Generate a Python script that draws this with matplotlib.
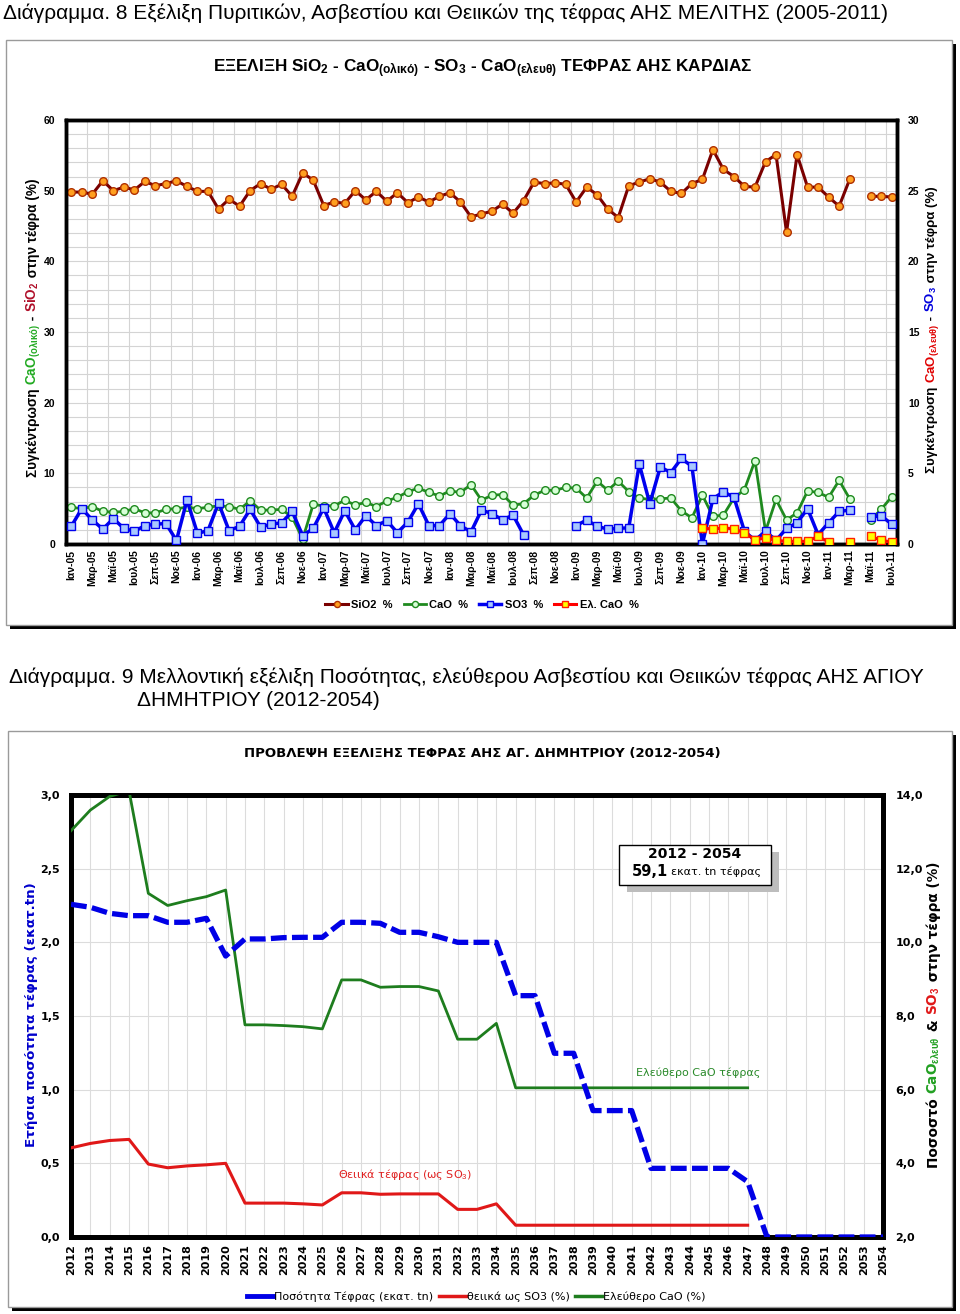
import numpy as np
import matplotlib
matplotlib.use('Agg')
import matplotlib.pyplot as plt
from matplotlib import font_manager
from matplotlib.patches import Rectangle
from matplotlib.lines import Line2D
import matplotlib.ticker as mticker

# ---------------- DATA ----------------
month_abbr = ['Ιαν', 'Φεβ', 'Μαρ', 'Απρ', 'Μαϊ', 'Ιουν', 'Ιουλ', 'Αυγ', 'Σεπ', 'Οκτ', 'Νοε', 'Δεκ']
year_abbr = ['05', '06', '07', '08', '09', '10', '11']
nan = np.nan

sio2 = [49.8, 49.8, 49.5, 51.4, 50.0, 50.5, 50.1, 51.3, 50.7, 51.0, 51.4, 50.6,
        49.9, 49.9, 47.4, 48.8, 47.8, 50.0, 51.0, 50.2, 50.9, 49.2, 52.5, 51.5,
        47.9, 48.4, 48.2, 50.0, 48.7, 49.9, 48.5, 49.7, 48.3, 49.1, 48.4, 49.2,
        49.7, 48.4, 46.3, 46.7, 47.1, 48.1, 46.8, 48.6, 51.2, 51.0, 51.1, 50.9,
        48.4, 50.5, 49.4, 47.4, 46.2, 50.7, 51.2, 51.7, 51.2, 49.9, 49.6, 51.0,
        51.6, 55.8, 53.0, 52.0, 50.6, 50.5, 54.1, 55.1, 44.1, 55.1, 50.5, 50.5,
        49.1, 47.8, 51.6, nan, 49.2, 49.2, 49.1]
cao = [5.2, 5.0, 5.3, 4.6, 4.5, 4.6, 5.0, 4.4, 4.4, 4.9, 5.0, 5.2,
       5.0, 5.2, 5.4, 5.3, 4.9, 6.1, 4.8, 4.8, 4.9, 3.8, 0.7, 5.6,
       5.4, 5.4, 6.2, 5.5, 5.9, 5.3, 6.1, 6.6, 7.4, 7.9, 7.3, 6.8,
       7.5, 7.3, 8.4, 6.2, 6.9, 7.0, 5.5, 5.7, 6.9, 7.6, 7.6, 8.0,
       7.9, 6.5, 8.9, 7.6, 8.9, 7.4, 6.5, 6.3, 6.4, 6.5, 4.7, 3.7,
       6.9, 3.9, 4.1, 6.5, 7.7, 11.8, 1.8, 6.3, 3.4, 4.4, 7.5, 7.3,
       6.6, 9.0, 6.4, nan, 3.4, 4.9, 6.7]
so3 = [1.25, 2.5, 1.7, 1.05, 1.8, 1.1, 0.9, 1.3, 1.4, 1.45, 0.25, 3.1,
       0.75, 0.95, 2.9, 0.95, 1.25, 2.45, 1.2, 1.4, 1.5, 2.3, 0.6, 1.1,
       2.55, 0.8, 2.35, 1.0, 2.0, 1.3, 1.65, 0.8, 1.55, 2.85, 1.3, 1.3,
       2.15, 1.3, 0.85, 2.4, 2.15, 1.7, 2.05, 0.65, nan, nan, nan, nan,
       1.3, 1.7, 1.25, 1.05, 1.1, 1.15, 5.65, 2.85, 5.45, 5.05, 6.05, 5.5,
       0.0, 3.2, 3.7, 3.3, 0.9, 0.26, 0.9, 0.26, 1.1, 1.5, 2.5, 0.66,
       1.5, 2.3, 2.4, nan, 1.9, 2.0, 1.4]
free_cao = [nan] * 60 + [1.13, 1.06, 1.13, 1.08, 0.78, 0.31, 0.42, 0.26, 0.19, 0.19, 0.19, 0.54,
                         0.14, nan, 0.14, nan, 0.54, 0.26, 0.14]

years = list(range(2012, 2055))
ash_qty = [2.258, 2.238, 2.197, 2.181, 2.181, 2.136, 2.136, 2.163, 1.907, 2.023,
           2.023, 2.032, 2.034, 2.034, 2.136, 2.136, 2.129, 2.068, 2.068, 2.038,
           2.0, 2.0, 2.0, 1.638, 1.638, 1.247, 1.247, 0.858, 0.858, 0.858,
           0.466, 0.466, 0.466, 0.466, 0.466, 0.375, 0.0, 0.0, 0.0, 0.0,
           0.0, 0.0, 0.0]
free_cao_fc = [13.03, 13.59, 13.96, 14.12, 11.33, 11.0, 11.13, 11.24, 11.42, 7.76,
               7.76, 7.74, 7.71, 7.65, 8.98, 8.98, 8.78, 8.8, 8.8, 8.68,
               7.37, 7.37, 7.8, 6.05, 6.05, 6.05, 6.05, 6.05, 6.05, 6.05,
               6.05, 6.05, 6.05, 6.05, 6.05, 6.05] + [nan] * 7
so3_fc = [4.42, 4.54, 4.62, 4.65, 3.98, 3.88, 3.93, 3.96, 4.0, 2.92,
          2.92, 2.92, 2.9, 2.87, 3.2, 3.2, 3.16, 3.17, 3.17, 3.17,
          2.75, 2.75, 2.9, 2.32, 2.32, 2.32, 2.32, 2.32, 2.32, 2.32,
          2.32, 2.32, 2.32, 2.32, 2.32, 2.32] + [nan] * 7

# ---------------- SETUP ----------------
names = {f.name for f in font_manager.fontManager.ttflist}
NARROW = 'Liberation Sans Narrow' if 'Liberation Sans Narrow' in names else 'Liberation Sans'
plt.rcParams['mathtext.fontset'] = 'custom'
plt.rcParams['mathtext.rm'] = 'Liberation Sans'
plt.rcParams['mathtext.bf'] = 'Liberation Sans:bold'
plt.rcParams['mathtext.it'] = 'Liberation Sans:italic'

W, H = 960, 1314
fig = plt.figure(figsize=(W / 100, H / 100), dpi=100)
fig.patch.set_facecolor('white')


def fx(px):
    return px / W


def fy(py):
    return 1 - py / H


def outer_box(x0, y0, x1, y1):
    sh = Rectangle((fx(x0 + 4), fy(y1 + 4)), (x1 - x0) / W, (y1 - y0) / H,
                   transform=fig.transFigure, facecolor='black', edgecolor='none', zorder=-3)
    mn = Rectangle((fx(x0), fy(y1)), (x1 - x0) / W, (y1 - y0) / H,
                   transform=fig.transFigure, facecolor='white', edgecolor='#9a9a9a', lw=1, zorder=-2)
    fig.patches.extend([sh, mn])


renderer = fig.canvas.get_renderer()


def vtext(xb, yc, pieces, **kw):
    objs = []
    lens = []
    for s, c in pieces:
        t = fig.text(0, 0, s, color=c, rotation=90, rotation_mode='anchor',
                     ha='left', va='baseline', **kw)
        objs.append(t)
        lens.append(t.get_window_extent(renderer).height)
    total = sum(lens)
    y = yc + total / 2
    for t, L in zip(objs, lens):
        t.set_position((fx(xb), fy(y)))
        y -= L


# ---------------- HEADINGS ----------------
fig.text(fx(3), fy(13), 'Διάγραμμα. 8 Εξέλιξη Πυριτικών, Ασβεστίου και Θειικών της τέφρας ΑΗΣ ΜΕΛΙΤΗΣ (2005-2011)',
         fontsize=15, family=NARROW, ha='left', va='center')
fig.text(fx(9), fy(677), 'Διάγραμμα. 9 Μελλοντική εξέλιξη Ποσότητας, ελεύθερου Ασβεστίου και Θειικών τέφρας ΑΗΣ ΑΓΙΟΥ',
         fontsize=15, family=NARROW, ha='left', va='center')
fig.text(fx(137), fy(701), 'ΔΗΜΗΤΡΙΟΥ (2012-2054)',
         fontsize=15, family=NARROW, ha='left', va='center')

# ---------------- TOP CHART ----------------
outer_box(6, 40, 952, 625)
fig.text(fx(483), fy(69),
         r'ΕΞΕΛΙΞΗ SiO$_\mathbf{2}$ - CaO$_\mathbf{(ολικό)}$ - SO$_\mathbf{3}$ - CaO$_\mathbf{(ελευθ)}$ ΤΕΦΡΑΣ ΑΗΣ ΚΑΡΔΙΑΣ',
         fontsize=12.3, weight='bold', family=NARROW, ha='center', va='center')

ax1 = fig.add_axes([fx(66), fy(544), (897 - 66) / W, (544 - 120) / H])
ax1r = ax1.twinx()
m = np.arange(len(sio2))
all_months = [f'{mo}-{yy}' for yy in year_abbr for mo in month_abbr][:len(sio2)]

l_sio2, = ax1.plot(m, sio2, color='#7a0000', lw=2.2, marker='o', ms=5.5, mfc='#ffa020', mec='#b03000', mew=1, zorder=3)
l_cao, = ax1.plot(m, cao, color='#1f8a1f', lw=2.0, marker='o', ms=5.5, mfc='#d8ffd8', mec='#1f8a1f', mew=1, zorder=3)
l_so3, = ax1r.plot(m, so3, color='#0000ee', lw=2.5, marker='s', ms=5.5, mfc='#a8c8ff', mec='#0000ee', mew=1, zorder=3)
l_fc, = ax1r.plot(m, free_cao, color='#ff0000', lw=2.2, marker='s', ms=5.5, mfc='#ffff00', mec='#ff2000', mew=1, zorder=3)

ax1.set_xlim(-0.5, len(sio2) - 0.5)
ax1.set_ylim(0, 60)
ax1r.set_ylim(0, 30)
ax1.set_yticks(np.arange(0, 61, 10))
ax1.set_yticks(np.arange(0, 61, 2), minor=True)
ax1r.set_yticks(np.arange(0, 31, 5))
ax1.set_xticks(m[::2])
ax1.set_xticklabels(all_months[::2], rotation=90)
ax1.set_xticks(np.arange(1.5, len(sio2) - 1, 2), minor=True)
ax1.grid(True, which='both', axis='y', color='#d4d4d4', lw=0.8)
ax1.grid(True, which='minor', axis='x', color='#d4d4d4', lw=0.8)
ax1.set_axisbelow(True)
for a in (ax1, ax1r):
    for sp in a.spines.values():
        sp.set_linewidth(2.5)
        sp.set_color('black')
    a.tick_params(which='both', length=0)
    for lab in a.get_xticklabels() + a.get_yticklabels():
        lab.set_fontfamily(NARROW)
        lab.set_fontweight('bold')
        lab.set_fontsize(7.5)
ax1.tick_params(axis='y', pad=8)
ax1r.tick_params(axis='y', pad=8)
ax1.tick_params(axis='x', pad=4)

fig.legend([l_sio2, l_cao, l_so3, l_fc], ['SiO2  %', 'CaO  %', 'SO3  %', 'Ελ. CaO  %'],
           loc='center', bbox_to_anchor=(fx(482), fy(605)), ncol=4, frameon=False,
           prop=dict(family=NARROW, weight='bold', size=8), handlelength=2.0,
           columnspacing=1.0, handletextpad=0.3, markerscale=0.8)

vtext(37, 328, [('Συγκέντρωση ', 'black'), (r'CaO$_\mathbf{(ολικό)}$', '#22aa22'), (' - ', 'black'),
                (r'SiO$_\mathbf{2}$', '#b0102a'), (' στην τέφρα (%)', 'black')],
      fontsize=9.8, weight='bold', family='Liberation Sans')
vtext(935, 330, [('Συγκέντρωση ', 'black'), (r'CaO$_\mathbf{(ελευθ)}$', '#e00000'), (' - ', 'black'),
                 (r'SO$_\mathbf{3}$', '#0000dd'), (' στην τέφρα (%)', 'black')],
      fontsize=9.5, weight='bold', family='Liberation Sans')

# ---------------- BOTTOM CHART ----------------
outer_box(8, 731, 952, 1307)
fig.text(fx(482), fy(753), 'ΠΡΟΒΛΕΨΗ ΕΞΕΛΙΞΗΣ ΤΕΦΡΑΣ ΑΗΣ ΑΓ. ΔΗΜΗΤΡΙΟΥ (2012-2054)',
         fontsize=9.5, weight='bold', ha='center', va='center')

ax2 = fig.add_axes([fx(71), fy(1237), (883 - 71) / W, (1237 - 795) / H])
ax2r = ax2.twinx()
ax2.set_xlim(years[0], years[-1])
ax2.set_ylim(0, 3)
ax2r.set_ylim(2, 14)
ax2.set_xticks(years)
ax2.set_xticklabels([str(y) for y in years], rotation=90)
ax2.set_yticks(np.arange(0, 3.01, 0.5))
ax2r.set_yticks(np.arange(2, 14.01, 2))
fmt = mticker.FuncFormatter(lambda v, p: f'{v:.1f}'.replace('.', ','))
ax2.yaxis.set_major_formatter(fmt)
ax2r.yaxis.set_major_formatter(fmt)
ax2.grid(True, color='#dcdcdc', lw=0.8)
ax2.set_axisbelow(True)

l_g, = ax2r.plot(years, free_cao_fc, color='#1e7d1e', lw=2.0, zorder=3)
l_r, = ax2r.plot(years, so3_fc, color='#e01818', lw=2.2, zorder=3)
l_b, = ax2r.plot(years, ash_qty, color='#0000e6', lw=3.8, ls=(0, (3, 1)),
                 transform=ax2.transData, zorder=4)

for a in (ax2, ax2r):
    for sp in a.spines.values():
        sp.set_linewidth(3.5)
        sp.set_color('black')
    a.tick_params(which='both', length=0)
    for lab in a.get_xticklabels() + a.get_yticklabels():
        lab.set_fontweight('bold')
        lab.set_fontsize(8)
ax2.tick_params(axis='y', pad=8)
ax2r.tick_params(axis='y', pad=9)
ax2.tick_params(axis='x', pad=5)

fig.text(fx(32), fy(1015), 'Ετήσια ποσότητα τέφρας (εκατ.tn)', rotation=90, color='#0000cc',
         weight='bold', fontsize=9.7, ha='center', va='center')
vtext(938, 1015, [('Ποσοστό ', 'black'), (r'CaO$_\mathbf{ελευθ}$', '#22a022'), (' & ', 'black'),
                  (r'SO$_\mathbf{3}$', '#e01818'), (' στην τέφρα (%)', 'black')],
      fontsize=9.8, weight='bold')

fig.text(fx(698), fy(1073), 'Ελεύθερο CaO τέφρας', color='#2a8a2a', fontsize=8, ha='center', va='center')
fig.text(fx(405), fy(1175), r'Θειικά τέφρας (ως SO$_3$)', color='#e02020', fontsize=8, ha='center', va='center')

# text box
fig.patches.append(Rectangle((fx(627), fy(892)), 152 / W, 40 / H, transform=fig.transFigure,
                             facecolor='#bdbdbd', edgecolor='none', zorder=4))
fig.patches.append(Rectangle((fx(619), fy(885)), 152 / W, 40 / H, transform=fig.transFigure,
                             facecolor='white', edgecolor='black', lw=1, zorder=4.5))
fig.text(fx(695), fy(854), '2012 - 2054', fontsize=10, weight='bold', ha='center', va='center', zorder=5)
fig.text(fx(668), fy(872), '59,1', fontsize=10.5, weight='bold', ha='right', va='center', zorder=5)
fig.text(fx(671), fy(872), 'εκατ. tn τέφρας', fontsize=8, ha='left', va='center', zorder=5)

fig.legend([Line2D([], [], color='#0000e6', lw=3.5), Line2D([], [], color='#e01818', lw=2.5),
            Line2D([], [], color='#1e7d1e', lw=2.5)],
           ['Ποσότητα Τέφρας (εκατ. tn)', 'θειικά ως SO3 (%)', 'Ελεύθερο CaO (%)'],
           loc='center', bbox_to_anchor=(fx(476), fy(1297)), ncol=3, frameon=False,
           prop=dict(size=8), handlelength=2.4, handletextpad=0.1, columnspacing=0.5)

fig.savefig('out.png', dpi=100)
